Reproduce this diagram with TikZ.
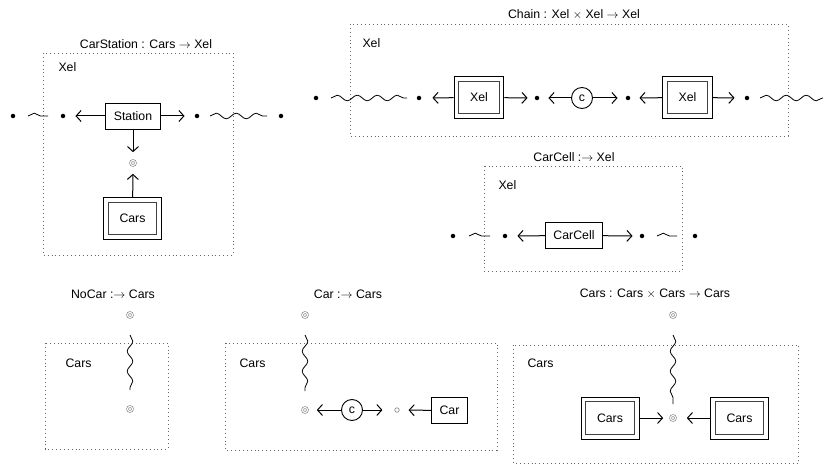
\documentclass[tikz,border=0pt]{standalone}
\usepackage{fontspec}
\setmainfont{Liberation Sans}
\usetikzlibrary{decorations.pathmorphing,arrows.meta,calc}
\begin{document}
\begin{tikzpicture}[x=1pt,y=-1pt,
  every node/.style={font=\fontsize{12.3}{14}\selectfont},
  frame/.style={draw=gray!80!black, dash pattern=on 0.9pt off 3pt, line width=0.9pt},
  pt/.style={circle, fill=black, minimum size=4.5pt, inner sep=0pt},
  ring/.style={circle, draw=gray, double=white, double distance=1.2pt, line width=0.6pt, minimum size=5pt, inner sep=0pt},
  hole/.style={circle, draw=gray, line width=0.6pt, minimum size=4.5pt, inner sep=0pt},
  sbox/.style={draw, line width=0.9pt, minimum height=26pt, inner xsep=8pt},
  dbox/.style={draw, line width=0.9pt, minimum height=42pt, inner xsep=16pt,
    path picture={\draw[line width=0.9pt, draw=black!75]
      ($(path picture bounding box.north west)+(4.7pt,-4.7pt)$) rectangle
      ($(path picture bounding box.south east)+(-4.7pt,4.7pt)$);}},
  ccirc/.style={circle, draw, line width=0.9pt, minimum size=21pt, inner sep=0pt},
  arr/.style={-{Straight Barb[length=5pt,width=11pt,line width=1pt]}, line width=1pt, shorten >=9pt},
  wave/.style={decorate, decoration={snake, segment length=20pt, amplitude=2.8pt}, line width=0.8pt},
]
\useasboundingbox (0,0) rectangle (823,468);

% ---- CarStation
\node (t1) at (146,44) {CarStation : Cars $\rightarrow$ Xel};
\draw[frame] (43,53) rectangle (233,255);
\node[anchor=west] (l1) at (55,67) {Xel};
\node[pt] (a1) at (13,116) {};
\node[pt] (a2) at (63,116) {};
\node[sbox] (st) at (133,116) {Station};
\node[pt] (a3) at (197,116) {};
\node[pt] (a4) at (281,116) {};
\node[ring] (r1) at (133,163) {};
\node[dbox] (cs) at (132.5,218.5) {Cars};
\draw[wave] ($(a1)!15pt!(a2)$) -- ($(a2)!15pt!(a1)$);
\draw[wave] ($(a3)!13pt!(a4)$) -- ($(a4)!14pt!(a3)$);
\draw[arr, shorten >=10pt] (st) -- (a2);
\draw[arr, shorten >=10pt] (st) -- (a3);
\draw[arr, shorten >=8pt] (st) -- (r1);
\draw[arr, shorten >=8pt] (cs) -- (r1);

% ---- Chain
\node (t2) at (574,15) {Chain : Xel $\times$ Xel $\rightarrow$ Xel};
\draw[frame] (350,24) rectangle (788,136);
\node[anchor=west] (l2) at (359,43) {Xel};
\node[pt] (b1) at (316,98) {};
\node[pt] (b2) at (419,98) {};
\node[dbox] (x1) at (479,97.5) {Xel};
\node[pt] (b3) at (537,98) {};
\node[ccirc] (c1) at (582,98) {c};
\node[pt] (b4) at (628,98) {};
\node[dbox] (x2) at (687.5,97.5) {Xel};
\node[pt] (b5) at (747,98) {};
\coordinate (bend) at (826,98);
\draw[wave] ($(b1)!15pt!(b2)$) -- ($(b2)!12pt!(b1)$);
\draw[wave] ($(b5)!13pt!(bend)$) -- (bend);
\draw[arr, shorten >=11pt] (x1) -- (b2);
\draw[arr, shorten >=7pt] (x1) -- (b3);
\draw[arr] (c1) -- (b3);
\draw[arr, shorten >=8pt] (c1) -- (b4);
\draw[arr] (x2) -- (b4);
\draw[arr, shorten >=10pt] (x2) -- (b5);

% ---- CarCell
\node (t3) at (574,157) {CarCell :$\rightarrow$ Xel};
\draw[frame] (484,166) rectangle (682,271);
\node[anchor=west] (l3) at (495,185) {Xel};
\node[pt] (d1) at (453,236) {};
\node[pt] (d2) at (505,236) {};
\node[sbox] (cc) at (574,235.5) {CarCell};
\node[pt] (d3) at (642,236) {};
\node[pt] (d4) at (695,236) {};
\draw[wave] ($(d1)!16pt!(d2)$) -- ($(d2)!15pt!(d1)$);
\draw[wave] ($(d3)!15pt!(d4)$) -- ($(d4)!18pt!(d3)$);
\draw[arr, shorten >=10pt] (cc) -- (d2);
\draw[arr, shorten >=7pt] (cc) -- (d3);

% ---- NoCar
\node (t4) at (113,294) {NoCar :$\rightarrow$ Cars};
\draw[frame] (45,343) rectangle (168,449);
\node[anchor=west] (l4) at (62,363) {Cars};
\node[ring] (n1) at (130,315) {};
\node[ring] (n2) at (130,409) {};
\draw[wave] ($(n1)!20pt!(n2)$) -- ($(n2)!19pt!(n1)$);

% ---- Car
\node (t5) at (348,294) {Car :$\rightarrow$ Cars};
\draw[frame] (225,343) rectangle (497,450);
\node[anchor=west] (l5) at (236,363) {Cars};
\node[ring] (m1) at (305,315) {};
\node[ring] (m2) at (305,410) {};
\node[ccirc] (c2) at (352,410) {c};
\node[hole] (h) at (397,410) {};
\node[sbox] (car) at (449.5,410.5) {Car};
\draw[wave] ($(m1)!20pt!(m2)$) -- ($(m2)!19pt!(m1)$);
\draw[arr] (c2) -- (m2);
\draw[arr, shorten >=12pt] (c2) -- (h);
\draw[arr] (car) -- (h);

% ---- Cars
\node (t6) at (655,294) {Cars : Cars $\times$ Cars $\rightarrow$ Cars};
\draw[frame] (513,345) rectangle (798,463);
\node[anchor=west] (l6) at (524,363) {Cars};
\node[ring] (k1) at (673,315) {};
\node[ring] (k2) at (673,418) {};
\node[dbox] (cl) at (610,418) {Cars};
\node[dbox] (cr) at (739.5,418) {Cars};
\draw[wave] ($(k1)!20pt!(k2)$) -- ($(k2)!14pt!(k1)$);
\draw[arr, shorten >=7pt] (cl) -- (k2);
\draw[arr, shorten >=11pt] (cr) -- (k2);
\end{tikzpicture}
\end{document}
